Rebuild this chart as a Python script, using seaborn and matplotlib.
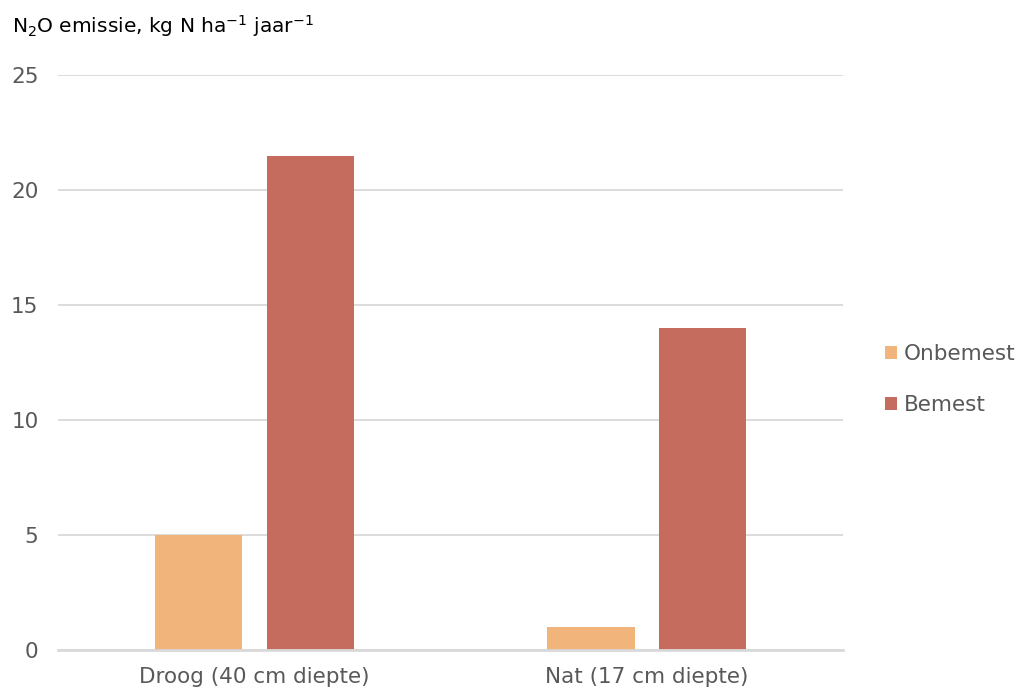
import matplotlib
matplotlib.use("Agg")
import matplotlib.pyplot as plt
import seaborn as sns
import pandas as pd

# Data
categories = ["Droog (40 cm diepte)", "Nat (17 cm diepte)"]
series_names = ["Onbemest", "Bemest"]
onbemest = [5.0, 1.0]
bemest = [21.5, 14.0]
y_ticks = [0, 5, 10, 15, 20, 25]

df = pd.DataFrame({
    "categorie": categories * 2,
    "behandeling": [series_names[0]] * 2 + [series_names[1]] * 2,
    "emissie": onbemest + bemest,
})

sns.set_theme(style="white")
plt.rcParams["font.family"] = ["DejaVu Sans"]
plt.rcParams["mathtext.fontset"] = "dejavusans"

text_color = "#595959"
grid_color = "#d9d9d9"
palette = {"Onbemest": "#f1b47a", "Bemest": "#c56c5f"}
fs = 15.5

fig = plt.figure(figsize=(10.17, 6.9), dpi=100)
ax = fig.add_axes([0.057, 0.058, 0.772, 0.833])

sns.barplot(data=df, x="categorie", y="emissie", hue="behandeling",
            order=categories, hue_order=series_names, palette=palette,
            width=0.57, gap=0.22, saturation=1, ax=ax, legend=True,
            edgecolor="none")

ax.set_xlim(-0.5, 1.5)
ax.set_ylim(0, 25)
ax.set_yticks(y_ticks)
ax.set_yticklabels([str(v) for v in y_ticks])
ax.set_xlabel("")
ax.set_ylabel("")

ax.yaxis.grid(True, color=grid_color, linewidth=1.3)
ax.set_axisbelow(True)
for side in ["top", "right", "left"]:
    ax.spines[side].set_visible(False)
ax.spines["bottom"].set_color(grid_color)
ax.spines["bottom"].set_linewidth(2)

ax.tick_params(axis="both", length=0, labelsize=fs, colors=text_color)
ax.tick_params(axis="y", pad=14)
ax.tick_params(axis="x", pad=12)

leg = ax.legend(loc="center left", bbox_to_anchor=(1.0535, 0.471), frameon=False,
                fontsize=fs, handlelength=0.55, handleheight=0.55,
                handletextpad=0.33, labelspacing=1.44, borderpad=0,
                borderaxespad=0, labelcolor=text_color)

fig.text(0.012, 0.962,
         r"N$_{\mathregular{2}}$O emissie, kg N ha$^{\mathregular{-1}}$ jaar$^{\mathregular{-1}}$",
         fontsize=14.5, color="black", ha="left", va="center")

fig.savefig("out.png", dpi=100, facecolor="white")
